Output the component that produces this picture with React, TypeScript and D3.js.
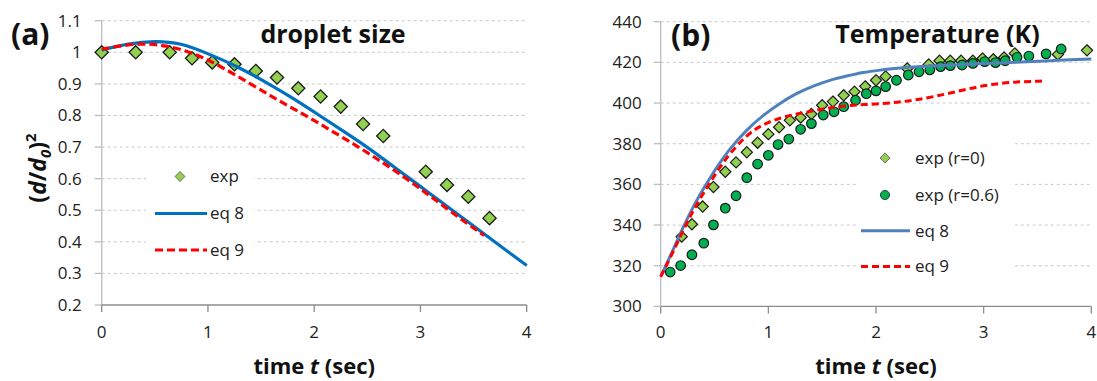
import React from 'react';
import * as d3 from 'd3';

// (a) droplet size, (d/d0)^2 vs time
const sizeExpT = [0, 0.32, 0.64, 0.85, 1.04, 1.25, 1.45, 1.65, 1.85, 2.06, 2.25, 2.46, 2.65, 3.05, 3.25, 3.45, 3.65];
const sizeExpV = [1.0, 1.0, 1.0, 0.981, 0.968, 0.962, 0.941, 0.92, 0.886, 0.86, 0.828, 0.773, 0.735, 0.622, 0.58, 0.543, 0.475];
const sizeEq8T = [0, 0.25, 0.5, 0.75, 0.97, 1.25, 1.55, 1.8, 2.05, 2.3, 2.5, 2.7, 2.9, 3.1, 3.3, 3.5, 3.7, 3.85, 4.0];
const sizeEq8V = [1.007, 1.028, 1.036, 1.029, 1.0, 0.96, 0.905, 0.855, 0.8, 0.745, 0.7, 0.65, 0.6, 0.55, 0.5, 0.45, 0.4, 0.362, 0.325];
const sizeEq9T = [0, 0.2, 0.4, 0.6, 0.85, 1.1, 1.4, 1.65, 1.92, 2.17, 2.42, 2.65, 2.87, 3.05, 3.25, 3.45, 3.6];
const sizeEq9V = [1.01, 1.022, 1.028, 1.022, 1.0, 0.96, 0.9, 0.85, 0.8, 0.75, 0.7, 0.65, 0.6, 0.555, 0.505, 0.455, 0.42];
const sizeTicks = ['0.2', '0.3', '0.4', '0.5', '0.6', '0.7', '0.8', '0.9', '1', '1.1'];

// (b) temperature (K) vs time
const tempR0T = [0.195, 0.29, 0.39, 0.49, 0.6, 0.7, 0.8, 0.9, 1.0, 1.1, 1.2, 1.3, 1.4, 1.5, 1.6, 1.7, 1.8, 1.9, 2.0, 2.09, 2.29, 2.49, 2.59, 2.69, 2.79, 2.9, 2.99, 3.09, 3.19, 3.29, 3.69, 3.96];
const tempR0V = [334.3, 340.4, 349.1, 358.7, 366.2, 370.8, 375.8, 380.5, 384.7, 388.1, 391.5, 392.9, 394.6, 398.9, 400.7, 403.8, 405.6, 408.2, 411.2, 413.1, 417, 419, 420.8, 420.8, 420.8, 420.8, 421.9, 421.5, 422.4, 424.4, 423.9, 425.9];
const tempR06T = [0.088, 0.185, 0.29, 0.4, 0.49, 0.6, 0.7, 0.8, 0.9, 1.0, 1.09, 1.19, 1.3, 1.4, 1.51, 1.61, 1.7, 1.81, 1.91, 2.0, 2.09, 2.19, 2.3, 2.4, 2.5, 2.6, 2.69, 2.8, 2.9, 3.01, 3.11, 3.2, 3.31, 3.42, 3.58, 3.72];
const tempR06V = [316.9, 320.1, 325.4, 331.1, 340.1, 348.3, 354.4, 363.3, 370, 374.3, 379.6, 382.3, 387.1, 389.9, 394.1, 395.7, 398.2, 401.4, 404.6, 406, 408.1, 411.2, 413.8, 415.4, 416.3, 417.9, 418.4, 418.7, 419.5, 420.4, 419.9, 420.8, 422.5, 423.1, 424.2, 426.6];
const tempEq8T = [0, 0.1, 0.2, 0.3, 0.41, 0.52, 0.64, 0.8, 0.95, 1.11, 1.26, 1.42, 1.57, 1.73, 1.88, 2.04, 2.19, 2.4, 2.7, 3.0, 3.3, 3.6, 4.0];
const tempEq8V = [314.6, 326, 338, 349, 359, 368.5, 377.5, 387, 394, 400, 404.8, 408.4, 411.3, 413.3, 415.1, 416.2, 417.2, 418, 418.7, 419.4, 420.1, 420.8, 421.7];
const tempEq9T = [0, 0.1, 0.2, 0.3, 0.4, 0.46, 0.55, 0.64, 0.8, 0.95, 1.11, 1.26, 1.42, 1.57, 1.73, 1.88, 2.13, 2.38, 2.69, 3.0, 3.31, 3.55];
const tempEq9V = [314.6, 325, 336.5, 347, 356, 361, 368.5, 375, 384.5, 389.5, 392.8, 394.6, 396.2, 397.7, 398.7, 399.2, 399.9, 401.5, 404.8, 408.9, 410.5, 410.8];
const tempTicks = ['300', '320', '340', '360', '380', '400', '420', '440'];

const timeTicks = ['0', '1', '2', '3', '4'];

const FONT = '"Open Sans", sans-serif';
const GREEN_LIGHT = '#92D050';
const GREEN = '#00B050';

const diamond = (r: number) => `M0,${-r}L${r},0L0,${r}L${-r},0Z`;

function zip(ts: number[], vs: number[]) {
  return ts.map((t, i) => [t, vs[i]] as [number, number]);
}

function Axes({ x, y, yTicks, labelGap }: any) {
  const [x0, x1] = x.range();
  const [y0] = y.range();
  return (
    <g fontFamily={FONT} fontSize={17} fill="#222">
      {yTicks.map((s: string) => {
        const v = +s;
        const yy = y(v);
        return (
          <g key={s}>
            {v !== y.domain()[0] && (
              <line x1={x0} x2={x1} y1={yy} y2={yy} stroke="#c8c8c8" strokeDasharray="3,3" />
            )}
            <line x1={x0 - 7} x2={x0} y1={yy} y2={yy} stroke="#bdbdbd" strokeWidth={1.3} />
            <text x={x0 - labelGap} y={yy} dy="0.35em" textAnchor="end">{s}</text>
          </g>
        );
      })}
      {timeTicks.map((s) => (
        <g key={s}>
          <line x1={x(+s)} x2={x(+s)} y1={y0} y2={y0 + 7} stroke="#8c8c8c" strokeWidth={1.3} />
          <text x={x(+s)} y={338} textAnchor="middle">{s}</text>
        </g>
      ))}
      <line x1={x0} x2={x0} y1={y.range()[1]} y2={y0} stroke="#bdbdbd" strokeWidth={1.3} />
      <line x1={x0} x2={x1} y1={y0} y2={y0} stroke="#8c8c8c" strokeWidth={1.3} />
      <text x={(x0 + x1) / 2} y={374} textAnchor="middle" fontSize={22} fontWeight="bold" fill="#111">
        time <tspan fontStyle="italic">t</tspan> (sec)
      </text>
    </g>
  );
}

function PanelA() {
  const x = d3.scaleLinear().domain([0, 4]).range([101.7, 526.7]);
  const y = d3.scaleLinear().domain([0.2, 1.1]).range([305, 20.7]);
  const line = d3.line<[number, number]>().x((d) => x(d[0])).y((d) => y(d[1])).curve(d3.curveBasis);
  return (
    <g>
      <Axes x={x} y={y} yTicks={sizeTicks} labelGap={20} />
      {/* legend box */}
      <rect x={146} y={153} width={108} height={112} fill="#fff" />
      {zip(sizeExpT, sizeExpV).map((d, i) => (
        <path key={i} d={diamond(6.6)} transform={`translate(${x(d[0])},${y(d[1])})`} fill={GREEN_LIGHT} stroke="#1a1a1a" strokeWidth={1.3} />
      ))}
      <path d={line(zip(sizeEq8T, sizeEq8V)) || ''} fill="none" stroke="#0070C0" strokeWidth={3.2} />
      <path d={line(zip(sizeEq9T, sizeEq9V)) || ''} fill="none" stroke="#FF0000" strokeWidth={3.2} strokeDasharray="8,4" />
      <g fontFamily={FONT} fontSize={17} fill="#222">
        <path d={diamond(5)} transform="translate(180,176.5)" fill={GREEN_LIGHT} stroke="#555" strokeWidth={0.8} />
        <text x={210} y={176.5} dy="0.35em">exp</text>
        <line x1={155} x2={207} y1={213.5} y2={213.5} stroke="#0070C0" strokeWidth={3.2} />
        <text x={210} y={213.5} dy="0.35em">eq 8</text>
        <line x1={155} x2={207} y1={250} y2={250} stroke="#FF0000" strokeWidth={3.2} strokeDasharray="8,4" />
        <text x={210} y={250} dy="0.35em">eq 9</text>
      </g>
      <text x={333} y={43} textAnchor="middle" fontFamily={FONT} fontSize={25} fontWeight="bold" fill="#111">droplet size</text>
      <text x={11} y={45} fontFamily={FONT} fontSize={30} fontWeight="bold" fill="#111">(a)</text>
      <text transform="translate(46,168) rotate(-90)" textAnchor="middle" fontFamily={FONT} fontSize={23} fontWeight="bold" fill="#111">(<tspan fontStyle="italic">d</tspan>/<tspan fontStyle="italic">d</tspan><tspan fontStyle="italic" fontSize={15} dy={5}>0</tspan><tspan dy={-5}>)</tspan><tspan fontSize={15} dy={-10}>2</tspan></text>
    </g>
  );
}

function PanelB() {
  const x = d3.scaleLinear().domain([0, 4]).range([660.7, 1091.3]);
  const y = d3.scaleLinear().domain([300, 440]).range([306.4, 21.7]);
  const line = d3.line<[number, number]>().x((d) => x(d[0])).y((d) => y(d[1])).curve(d3.curveBasis);
  return (
    <g>
      <Axes x={x} y={y} yTicks={tempTicks} labelGap={19} />
      <rect x={856} y={138} width={159} height={147} fill="#fff" />
      {zip(tempR0T, tempR0V).map((d, i) => (
        <path key={'a' + i} d={diamond(5.6)} transform={`translate(${x(d[0])},${y(d[1])})`} fill={GREEN_LIGHT} stroke="#1a1a1a" strokeWidth={1.2} />
      ))}
      {zip(tempR06T, tempR06V).map((d, i) => (
        <circle key={'b' + i} cx={x(d[0])} cy={y(d[1])} r={4.8} fill={GREEN} stroke="#1a1a1a" strokeWidth={1.2} />
      ))}
      <path d={line(zip(tempEq8T, tempEq8V)) || ''} fill="none" stroke="#4F81BD" strokeWidth={3} />
      <path d={line(zip(tempEq9T, tempEq9V)) || ''} fill="none" stroke="#FF0000" strokeWidth={3} strokeDasharray="7,4" />
      <g fontFamily={FONT} fontSize={17} fill="#222">
        <path d={diamond(5)} transform="translate(885,158)" fill={GREEN_LIGHT} stroke="#555" strokeWidth={0.8} />
        <text x={915} y={158} dy="0.35em">exp (r=0)</text>
        <circle cx={885} cy={195} r={4.6} fill={GREEN} stroke="#333" strokeWidth={0.9} />
        <text x={915} y={195} dy="0.35em">exp (r=0.6)</text>
        <line x1={861} x2={910} y1={230.7} y2={230.7} stroke="#4F81BD" strokeWidth={3} />
        <text x={915} y={230.7} dy="0.35em">eq 8</text>
        <line x1={861} x2={910} y1={266.5} y2={266.5} stroke="#FF0000" strokeWidth={3} strokeDasharray="7,4" />
        <text x={915} y={266.5} dy="0.35em">eq 9</text>
      </g>
      <text x={937.5} y={43} textAnchor="middle" fontFamily={FONT} fontSize={25} fontWeight="bold" fill="#111">Temperature (K)</text>
      <text x={671} y={46} fontFamily={FONT} fontSize={30} fontWeight="bold" fill="#111">(b)</text>
    </g>
  );
}

export default function App() {
  return (
    <svg width={1097} height={381} style={{ position: 'absolute', left: 0, top: 0, background: '#fff' }}>
      <rect width={1097} height={381} fill="#fff" />
      <PanelA />
      <PanelB />
    </svg>
  );
}
